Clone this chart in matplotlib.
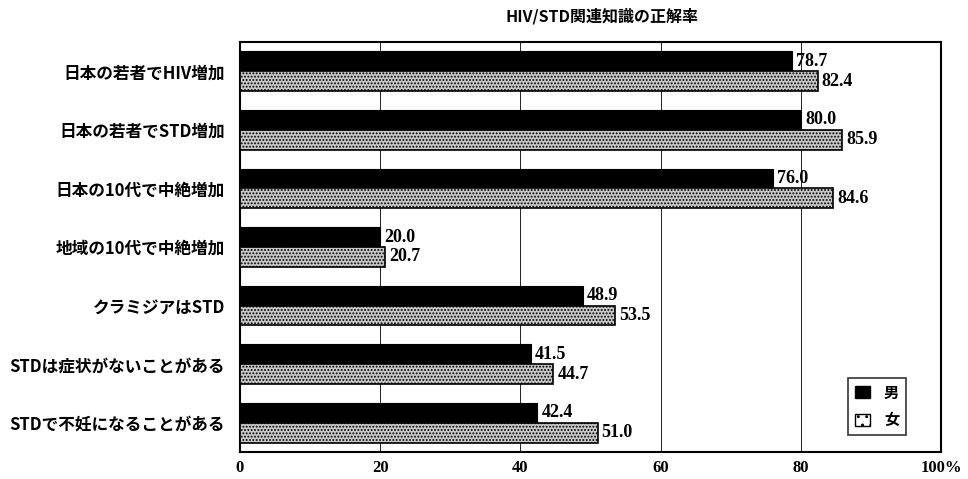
import matplotlib
matplotlib.use("Agg")
import matplotlib.pyplot as plt
import numpy as np
from matplotlib.patches import Patch

plt.rcParams['font.family'] = ['Noto Sans CJK JP', 'DejaVu Sans']
plt.rcParams['hatch.linewidth'] = 0.9

categories = ["日本の若者でHIV増加", "日本の若者でSTD増加", "日本の10代で中絶増加",
              "地域の10代で中絶増加", "クラミジアはSTD", "STDは症状がないことがある",
              "STDで不妊になることがある"]
male = [78.7, 80.0, 76.0, 20.0, 48.9, 41.5, 42.4]
female = [82.4, 85.9, 84.6, 20.7, 53.5, 44.7, 51.0]
series_names = ["男", "女"]
xticks = [0, 20, 40, 60, 80, 100]
xticklabels = ["0", "20", "40", "60", "80", "100%"]
title = "HIV/STD関連知識の正解率"

fig = plt.figure(figsize=(9.68, 4.79), dpi=100)
ax = fig.add_axes([240/968, 1-452/479, (941-240)/968, (452-42)/479])

y = np.arange(len(categories))
h = 0.34
ax.barh(y - h/2, male, height=h, color='black', edgecolor='black', linewidth=0.8, zorder=3)
ax.barh(y + h/2, female, height=h, color='#c8c8c8', edgecolor='black', hatch='.....',
        linewidth=1.2, zorder=3)

numfont = dict(family=['Liberation Serif', 'DejaVu Serif'], weight='bold', fontsize=13)
for yi, v in zip(y, male):
    ax.annotate(f"{v:.1f}", (v, yi - h/2), xytext=(3, 0), textcoords='offset points',
                va='center', ha='left', **numfont)
for yi, v in zip(y, female):
    ax.annotate(f"{v:.1f}", (v, yi + h/2), xytext=(3, 0), textcoords='offset points',
                va='center', ha='left', **numfont)

ax.set_xlim(0, 100)
ax.set_ylim(len(categories) - 0.5, -0.5)
ax.set_yticks(y)
ax.set_yticklabels(categories, fontsize=12, weight='bold')
ax.set_xticks(xticks)
ax.set_xticklabels(xticklabels, family=['Liberation Serif', 'DejaVu Serif'],
                   weight='bold', fontsize=12)
ax.tick_params(axis='both', length=0)
ax.tick_params(axis='y', pad=11)
ax.tick_params(axis='x', pad=6)
for x in xticks[1:-1]:
    ax.axvline(x, color='#222222', linewidth=0.7, zorder=1)
for s in ax.spines.values():
    s.set_linewidth(1.5)
    s.set_color('black')

handles = [Patch(facecolor='black', edgecolor='black'),
           Patch(facecolor='white', edgecolor='black', hatch='..')]
leg = ax.legend(handles, series_names, loc='lower right',
                bbox_to_anchor=(906/968, 1-435/479), bbox_transform=fig.transFigure,
                frameon=True, fancybox=False, edgecolor='black', fontsize=11,
                handlelength=1.0, handleheight=0.85, handletextpad=0.9,
                borderpad=0.45, labelspacing=0.75, borderaxespad=0.0)
leg.get_frame().set_linewidth(1.2)
for t in leg.get_texts():
    t.set_weight('bold')

fig.text(602/968, 1-16/479, title, ha='center', va='center', fontsize=11.5, weight='bold')

fig.savefig("out.png", dpi=100)
